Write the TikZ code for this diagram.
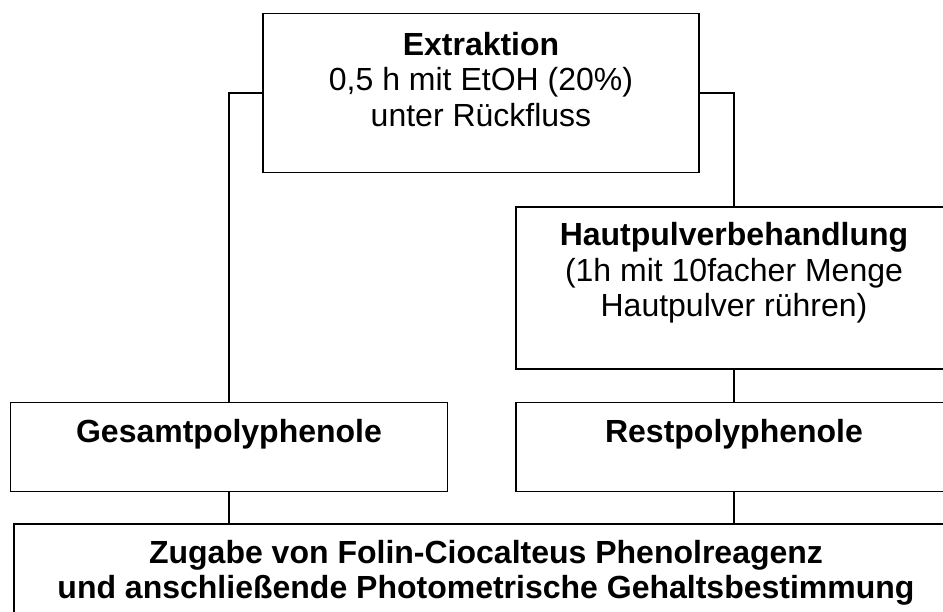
\documentclass[tikz,border=0pt]{standalone}
\usepackage{fontspec}
\setmainfont{Liberation Sans}
\usetikzlibrary{positioning}

\tikzset{
    box/.style={draw,line width=1.9pt,inner sep=0pt},
    txt/.style={align=center,inner sep=0pt,font=\fontsize{32}{35.5}\selectfont},
    link/.style={line width=1.3pt}
}

\begin{document}
\begin{tikzpicture}[x=1pt,y=-1pt]
    \useasboundingbox (0,0) rectangle (943,611);
    \clip (0,0) rectangle (943,611);
    \node [box,minimum width=436,minimum height=159] (extr) at (481,93) {};
    \node [box,minimum width=436,minimum height=162] (haut) at (734,288) {};
    \node [box,minimum width=437,minimum height=89] (gesamt) at (229,447) {};
    \node [box,minimum width=436,minimum height=89] (rest) at (734,447) {};
    \node [box,minimum width=944,minimum height=130] (zugabe) at (486,589) {};
    \node [txt] (extr-txt) at (481,79.3) {\textbf{Extraktion}\\0,5 h mit EtOH (20\%)\\unter Rückfluss};
    \node [txt] (haut-txt) at (734,273) {\textbf{Hautpulverbehandlung}\\(1h mit 10facher Menge\\Hautpulver rühren)};
    \node [txt] (gesamt-txt) at (229,434.5) {\textbf{Gesamtpolyphenole}};
    \node [txt] (rest-txt) at (734,434.5) {\textbf{Restpolyphenole}};
    \node [txt] (zugabe-txt) at (486,573) {\textbf{Zugabe von Folin-Ciocalteus Phenolreagenz}\\\textbf{und anschließende Photometrische Gehaltsbestimmung}};
    \draw [link] (extr.west) -| (gesamt.north);
    \draw [link] (extr.east) -| (haut.north);
    \draw [link] (haut.south) -- (rest.north);
    \draw [link] (gesamt.south) -- (gesamt.south |- zugabe.north);
    \draw [link] (rest.south) -- (rest.south |- zugabe.north);
\end{tikzpicture}
\end{document}
